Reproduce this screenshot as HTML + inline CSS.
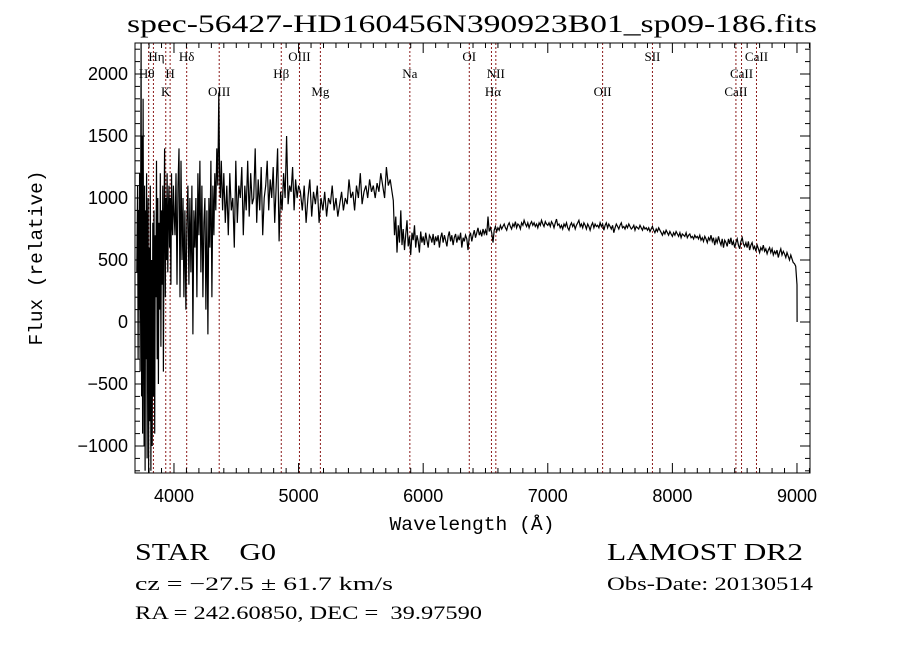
<!DOCTYPE html>
<html><head><meta charset="utf-8"><style>
html,body{margin:0;padding:0;background:#fff}
svg{display:block}
svg text{white-space:pre}
</style></head><body>
<svg id="chart" width="900" height="649" viewBox="0 0 900 649" xmlns="http://www.w3.org/2000/svg" xml:space="preserve">
<rect x="0" y="0" width="900" height="649" fill="#fff"/>
<text x="472" y="32" text-anchor="middle" font-family="Liberation Serif, serif" font-size="25" textLength="690" lengthAdjust="spacingAndGlyphs">spec-56427-HD160456N390923B01_sp09-186.fits</text>
<g id="lines"></g>
<g id="spec"></g>
<g id="axes"></g>
<text x="472" y="530" text-anchor="middle" font-family="Liberation Mono, monospace" font-size="19" textLength="165" lengthAdjust="spacingAndGlyphs">Wavelength (Å)</text>
<text x="0" y="0" transform="translate(42,258) rotate(-90)" text-anchor="middle" font-family="Liberation Mono, monospace" font-size="19" textLength="175" lengthAdjust="spacingAndGlyphs">Flux (relative)</text>
<g font-family="Liberation Serif, serif">
<text x="135" y="560" font-size="24" textLength="141" lengthAdjust="spacingAndGlyphs">STAR    G0</text>
<text x="135" y="590" font-size="19" textLength="258" lengthAdjust="spacingAndGlyphs">cz = −27.5 ± 61.7 km/s</text>
<text x="135" y="619" font-size="19" textLength="347" lengthAdjust="spacingAndGlyphs">RA = 242.60850, DEC =  39.97590</text>
<text x="607" y="560" font-size="24" textLength="196" lengthAdjust="spacingAndGlyphs">LAMOST DR2</text>
<text x="607" y="590" font-size="19" textLength="206" lengthAdjust="spacingAndGlyphs">Obs-Date: 20130514</text>
</g>
</svg>
<script>
const blueWave = [3702,3708,3712,3716,3720,3724,3728,3732,3736,3740,3744,3748,3752,3756,3760,3764,3768,3772,3776,3780,3784,3788,3792,3796,3800,3805,3810,3815,3820,3825,3830,3835,3840,3845,3850,3855,3860,3865,3870,3875,3880,3885,3890,3895,3900,3905,3910,3915,3920,3925,3930,3935,3940,3945,3950,3955,3960,3965,3970,3975,3980,3985,3990,3995,4000,
4008,4016,4024,4032,4040,4048,4056,4064,4072,4080,4088,4096,4104,4112,4120,4128,4136,4144,4152,4160,4168,4176,4184,4192,4200,4208,4216,4224,4232,4240,4248,4256,4264,4272,4280,4288,4296,4304,4312,4320,4328,4336,4344,4352,4360,4366,4372,4380,4390,4400,
4412,4424,4436,4448,4460,4472,4484,4496,4508,4520,4532,4544,4556,4568,4580,4592,4604,4616,4628,4640,4652,4664,4676,4688,4700,4712,4724,4736,4748,4760,4772,4784,4796,4808,4820,4832,4844,4856,4868,4880,4892,4904,4916,4928,4940,4952,4964,4976,4988,5000,
5015,5030,5045,5060,5075,5090,5105,5120,5135,5150,5165,5180,5195,5210,5225,5240,5255,5270,5285,5300,5315,5330,5345,5360,5375,5390,5405,5420,5435,5450,5465,5480,5495,5510,5525,5540,5555,5570,5585,5600,5615,5630,5645,5660,5675,5690,5705,5720,5735,5750];
const blueFlux = [400,1100,-300,900,100,1200,-400,800,2250,-600,1500,-900,1800,300,-1000,1100,-1200,900,-300,1200,-1100,700,1000,-1250,600,-800,1100,-1200,500,-1000,800,-600,900,-900,700,200,1300,-300,1000,-500,800,100,1200,-200,900,300,1100,-400,800,1400,200,1000,500,1200,400,900,1100,600,1000,300,1200,800,700,1100,900,
700,1200,300,1100,1400,200,1300,500,1000,200,900,100,800,1100,300,1000,400,1100,-100,900,600,1000,200,1200,700,1300,400,1100,200,800,1000,100,900,-100,1000,600,1300,200,1100,700,1200,900,1400,1100,1850,1200,1000,1300,900,1200,
800,1100,700,1200,900,1000,600,1300,800,1100,1000,1250,700,1100,900,1300,850,1200,950,1000,1400,800,1150,900,1250,700,1000,1100,1300,900,1150,1000,1250,800,1100,1400,650,1050,900,1200,1000,1500,950,1100,1050,1250,900,1150,1000,1100,
1050,900,1100,800,1000,1150,850,1050,950,1100,800,1000,900,1050,850,1000,950,1100,900,1000,850,950,1050,900,1000,950,1150,1000,1050,900,1100,1000,1200,950,1050,1100,1000,1150,1050,1100,1000,1120,1050,1200,1100,1000,1250,1100,1150,1050];

// red part: sampled every 10 Å starting at 5760
const redStart = 5760;
const redStep = 10;
const redFlux = [980,700,850,560,780,640,900,620,750,580,700,820,610,690,540,720,660,780,600,700,650,560,730,640,
690,620,720,660,600,700,680,640,710,620,690,650,700,600,680,720,640,700,660,610,690,730,650,700,620,680,710,640,690,660,720,600,680,650,700,670,580,690,720,650,
700,740,680,720,760,700,730,690,750,710,740,700,850,730,760,720,640,740,770,730,
760,740,780,750,770,790,760,740,780,800,770,750,790,770,810,760,790,780,750,800,780,820,790,770,800,760,790,810,780,800,770,790,760,800,780,820,790,770,810,790,
780,800,770,810,790,760,800,830,780,790,760,780,750,790,770,800,760,740,780,800,770,790,750,780,800,820,770,790,760,800,780,750,790,770,740,780,800,760,790,770,
780,760,800,770,790,740,780,800,760,790,770,750,780,720,760,790,770,750,780,800,760,770,750,780,760,790,770,750,760,780,740,770,760,750,780,760,740,770,750,760,
740,760,730,750,770,740,720,750,730,760,740,720,700,730,710,740,720,700,730,710,690,720,700,730,710,690,720,680,710,700,690,720,680,700,710,680,690,670,700,680,
690,670,700,660,680,650,690,670,640,680,660,700,650,680,620,670,640,690,650,620,670,600,660,640,610,670,630,680,620,650,600,640,670,620,590,650,680,630,610,640,
600,650,580,620,640,590,610,570,620,590,560,600,580,620,570,590,550,580,600,560,590,540,570,550,580,520,560,590,540,570,550,520,560,530,500,540,510,480,470,450,
300];
const tailWave = [9001];
const tailFlux = [0];

const X0 = 3700, XPX0 = 136.6, SX = 0.1246;
const Y0PX = 322, SY = 0.124;
function xs(l){ return XPX0 + (l - X0) * SX; }
function ys(f){ return Y0PX - f * SY; }

const lineWaves = [3797,3835,3934,3969,4102,4363,4861,5007,5175,5893,6370,6548,6583,7440,7840,8510,8555,8675];
const lineLabels = [
 {t:"Hθ",w:3797,row:1,dx:-2},{t:"Hη",w:3835,row:0,dx:3},{t:"K",w:3934,row:2,dx:0},{t:"H",w:3969,row:1,dx:0},
 {t:"Hδ",w:4102,row:0,dx:0},{t:"OIII",w:4363,row:2,dx:0},{t:"Hβ",w:4861,row:1,dx:0},{t:"OIII",w:5007,row:0,dx:0},
 {t:"Mg",w:5175,row:2,dx:0},{t:"Na",w:5893,row:1,dx:0},{t:"OI",w:6370,row:0,dx:0},{t:"NII",w:6583,row:1,dx:0},
 {t:"Hα",w:6560,row:2,dx:0},{t:"OII",w:7440,row:2,dx:0},{t:"SII",w:7840,row:0,dx:0},{t:"CaII",w:8510,row:2,dx:0},
 {t:"CaII",w:8555,row:1,dx:0},{t:"CaII",w:8675,row:0,dx:0}];
const rowY = [61,78,96];

const xTicks = [4000,5000,6000,7000,8000,9000];
const yTicks = [-1000,-500,0,500,1000,1500,2000];

const NS='http://www.w3.org/2000/svg';
function mk(tag, attrs, parent){ const e=document.createElementNS(NS,tag); for(const k in attrs) e.setAttribute(k,attrs[k]); parent.appendChild(e); return e; }

const L=135, R=810, T=43, B=473;
const gl=document.getElementById('lines');
lineWaves.forEach(w=>{
  const e=mk('line',{x1:xs(w),x2:xs(w),y1:T,y2:B,stroke:'#8b1a1a','stroke-width':1,'stroke-dasharray':'2,2'},gl);
  
  
});
lineLabels.forEach(o=>{
  const e=mk('text',{x:xs(o.w)+o.dx,y:rowY[o.row],'text-anchor':'middle','font-family':'Liberation Serif, serif','font-size':13},gl);
  e.textContent=o.t;
  
  
});

const wave = blueWave.slice();
const flux = blueFlux.slice();
redFlux.forEach((f,i)=>{ wave.push(redStart + i*redStep); flux.push(f); });
tailWave.forEach((w,i)=>{ wave.push(w); flux.push(tailFlux[i]); });

const gs=document.getElementById('spec');
let d='';
const n=Math.min(wave.length, flux.length);
for(let i=0;i<n;i++){
  let y=Math.max(T, Math.min(B, ys(flux[i])));
  d+=(i?'L':'M')+xs(wave[i]).toFixed(1)+','+y.toFixed(1);
}
const p=mk('path',{d:d,fill:'none',stroke:'#000','stroke-width':1.2},gs);



const ga=document.getElementById('axes');
const fr=mk('rect',{x:L,y:T,width:R-L,height:B-T,fill:'none',stroke:'#000','stroke-width':1},ga);


for(let w=3800; w<=9100; w+=100){
  const x=xs(w); if(x<L||x>R) continue;
  const maj = (w%1000===0);
  const len = maj?10:5;
  mk('line',{x1:x,x2:x,y1:B,y2:B-len,stroke:'#000'},ga);
  mk('line',{x1:x,x2:x,y1:T,y2:T+len,stroke:'#000'},ga);
}
for(let f=-1200; f<=2200; f+=100){
  const y=ys(f); if(y<T||y>B) continue;
  const maj=(f%500===0); const len=maj?10:5;
  mk('line',{x1:L,x2:L+len,y1:y,y2:y,stroke:'#000'},ga);
  mk('line',{x1:R,x2:R-len,y1:y,y2:y,stroke:'#000'},ga);
}
xTicks.forEach(v=>{
  const e=mk('text',{x:xs(v),y:502,'text-anchor':'middle','font-family':'Liberation Sans, sans-serif','font-size':18},ga);
  e.textContent=String(v);
  
  
});
yTicks.forEach(v=>{
  const e=mk('text',{x:128,y:ys(v)+6,'text-anchor':'end','font-family':'Liberation Sans, sans-serif','font-size':18},ga);
  e.textContent=(v<0?'−':'')+Math.abs(v);
  
  
});
</script>
</body></html>
